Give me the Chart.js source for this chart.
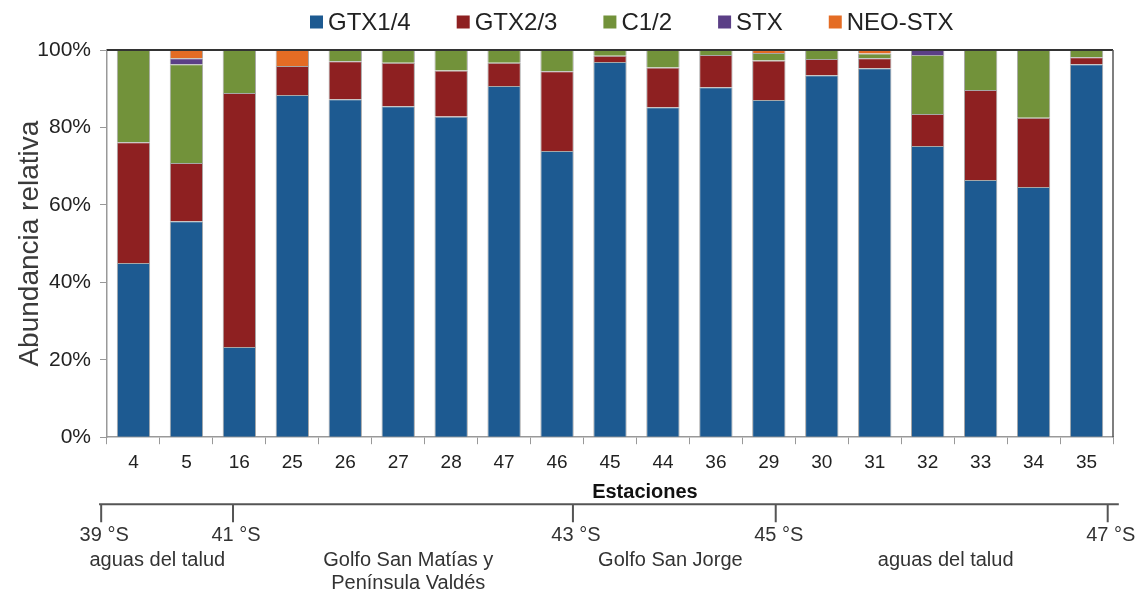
<!DOCTYPE html>
<html>
<head>
<meta charset="utf-8">
<script src="https://cdn.jsdelivr.net/npm/chart.js@4/dist/chart.umd.min.js"></script>
<style>
  html, body { margin: 0; padding: 0; background: #fff; }
  #wrap { width: 1143px; height: 593px; }
</style>
</head>
<body>
<div id="wrap"><canvas id="toxinas" width="1143" height="593"></canvas></div>
<script>
const estaciones = ['4', '5', '16', '25', '26', '27', '28', '47', '46', '45', '44', '36', '29', '30', '31', '32', '33', '34', '35'];

// abundancia relativa (%) de cada toxina por estación
const gtx14  = [45.0, 55.8, 23.3, 88.4, 87.3, 85.5, 82.8, 90.7, 73.9, 96.9, 85.2, 90.4, 87.1, 93.5, 95.3, 75.2, 66.4, 64.6, 96.3];
const gtx23  = [31.2, 15.0, 65.6, 7.5, 9.8, 11.2, 11.9, 6.0, 20.6, 1.6, 10.3, 8.3, 10.2, 4.2, 2.6, 8.3, 23.3, 17.9, 1.8];
const c12    = [23.8, 25.5, 11.1, 0, 2.9, 3.3, 5.3, 3.3, 5.5, 1.5, 4.5, 1.3, 1.9, 2.3, 1.2, 15.2, 10.3, 17.5, 1.9];
const stx    = [0, 1.6, 0, 0, 0, 0, 0, 0, 0, 0, 0, 0, 0, 0, 0, 1.3, 0, 0, 0];
const neoStx = [0, 2.1, 0, 4.1, 0, 0, 0, 0, 0, 0, 0, 0, 0.8, 0, 0.9, 0, 0, 0, 0];

const series = ['GTX1/4', 'GTX2/3', 'C1/2', 'STX', 'NEO-STX'];
const yTicks = [0, 20, 40, 60, 80, 100];

// eje de latitudes bajo las estaciones (posición en unidades de estación)
const latitudes = ['39 °S', '41 °S', '43 °S', '45 °S', '47 °S'];
const latPos = [-0.61, 1.88, 8.30, 12.13, 18.40];
const regiones = [['aguas del talud'], ['Golfo San Matías y', 'Península Valdés'], ['Golfo San Jorge'], ['aguas del talud']];
const regionPos = [0.45, 5.19, 10.14, 15.34];

const colores = ['#1d5a91', '#8e2021', '#72923a', '#5b3f86', '#e46c24'];
const FONT = "'Liberation Sans', Arial, sans-serif";

const valores = [gtx14, gtx23, c12, stx, neoStx];

const marcoYLatitudes = {
  id: 'marcoYLatitudes',
  afterDraw(chart) {
    const ctx = chart.ctx;
    const area = chart.chartArea;
    const x = chart.scales.x;
    ctx.save();

    // marco superior y derecho
    ctx.strokeStyle = '#333';
    ctx.lineWidth = 2;
    ctx.beginPath();
    ctx.moveTo(area.left, area.top);
    ctx.lineTo(area.right, area.top);
    ctx.stroke();
    ctx.strokeStyle = '#555';
    ctx.lineWidth = 1.5;
    ctx.beginPath();
    ctx.moveTo(area.right, area.top);
    ctx.lineTo(area.right, area.bottom);
    ctx.stroke();

    // leyenda
    ctx.font = '24px ' + FONT;
    ctx.textBaseline = 'middle';
    ctx.textAlign = 'left';
    let lx = 310;
    const ly = 22;
    chart.data.datasets.forEach(ds => {
      ctx.fillStyle = ds.backgroundColor;
      ctx.fillRect(lx, ly - 6.5, 13, 13);
      ctx.fillStyle = '#222';
      ctx.fillText(ds.label, lx + 18, ly + 1);
      lx += 18 + ctx.measureText(ds.label).width + 46;
    });

    // título del eje x
    const base = area.bottom;
    ctx.fillStyle = '#111';
    ctx.font = 'bold 20px ' + FONT;
    ctx.textAlign = 'center';
    ctx.fillText('Estaciones', x.getPixelForValue(9.66), base + 55);

    // línea de latitudes
    const lineY = base + 67;
    ctx.strokeStyle = '#555';
    ctx.lineWidth = 2;
    ctx.beginPath();
    ctx.moveTo(x.getPixelForValue(-0.65), lineY);
    ctx.lineTo(x.getPixelForValue(18.61), lineY);
    latPos.forEach(p => {
      const px = x.getPixelForValue(p);
      ctx.moveTo(px, lineY);
      ctx.lineTo(px, lineY + 18);
    });
    ctx.stroke();

    ctx.fillStyle = '#333';
    ctx.font = '20px ' + FONT;
    latitudes.forEach((t, i) => {
      ctx.fillText(t, x.getPixelForValue(latPos[i]) + 3, lineY + 31);
    });

    regiones.forEach((lineas, i) => {
      const px = x.getPixelForValue(regionPos[i]);
      lineas.forEach((t, j) => ctx.fillText(t, px, lineY + 56 + j * 23));
    });
    ctx.restore();
  }
};

new Chart(document.getElementById('toxinas'), {
  type: 'bar',
  data: {
    labels: estaciones,
    datasets: series.map((nombre, i) => ({
      label: nombre,
      data: valores[i].map(v => v || null),
      backgroundColor: colores[i],
      borderColor: 'rgba(130,130,130,0.7)',
      borderWidth: 1,
      barPercentage: 0.63,
      categoryPercentage: 1.0
    }))
  },
  options: {
    responsive: false,
    animation: false,
    layout: { padding: { top: 50, right: 30, bottom: 112, left: 0 } },
    plugins: {
      legend: { display: false },
      tooltip: { enabled: false }
    },
    scales: {
      x: {
        stacked: true,
        grid: { drawOnChartArea: false, drawTicks: true, tickLength: 7, color: '#999' },
        border: { display: true, color: '#999', width: 1.5 },
        ticks: { color: '#222', font: { family: FONT, size: 19 }, padding: 7 }
      },
      y: {
        stacked: true,
        min: 0,
        max: 100,
        afterBuildTicks(axis) { axis.ticks = yTicks.map(v => ({ value: v })); },
        afterFit(axis) { axis.width = 107; },
        grid: { drawOnChartArea: false, drawTicks: true, tickLength: 7, color: '#999' },
        border: { display: true, color: '#999', width: 1.5 },
        ticks: {
          color: '#222',
          font: { family: FONT, size: 21 },
          padding: 9,
          callback: v => v + '%'
        },
        title: {
          display: true,
          text: 'Abundancia relativa',
          color: '#3a3a3a',
          font: { family: FONT, size: 28, lineHeight: 1.0 },
          padding: { top: 16, bottom: 0 }
        }
      }
    }
  },
  plugins: [marcoYLatitudes]
});
</script>
</body>
</html>
